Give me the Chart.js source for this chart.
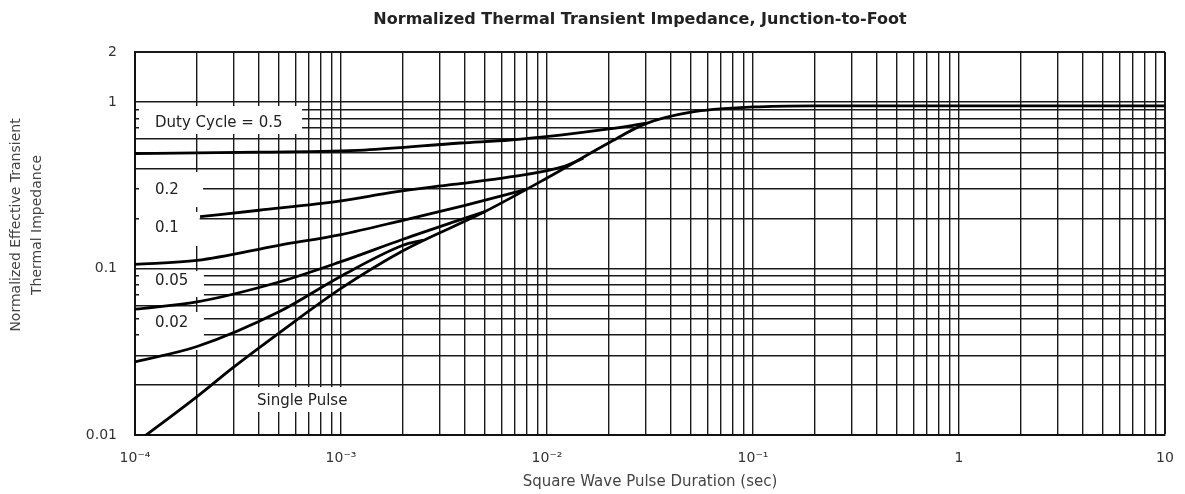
<!DOCTYPE html>
<html>
<head>
<meta charset="utf-8">
<script src="https://cdn.jsdelivr.net/npm/chart.js@4.4.1/dist/chart.umd.min.js"></script>
<style>
  body { margin: 0; background: #fff; }
  #wrap { width: 1185px; height: 494px; }
</style>
</head>
<body>
<div id="wrap"><canvas id="chart"></canvas></div>
<script>
// pulse duration (sec) and normalized impedance
const tSingle = [1e-4, 2e-4, 3e-4, 5e-4, 1e-3, 2e-3, 5e-3, 1e-2, 2e-2, 3e-2, 5e-2, 1e-1, 2e-1, 1, 10];
const zSingle = [0.0089, 0.017, 0.0255, 0.041, 0.076, 0.128, 0.22, 0.35, 0.57, 0.74, 0.87, 0.935, 0.95, 0.95, 0.95];

const tD50 = [1e-4, 4e-4, 1.3e-3, 3.8e-3, 6.6e-3, 1.16e-2, 2e-2, 3e-2];
const zD50 = [0.49, 0.5, 0.515, 0.568, 0.592, 0.634, 0.69, 0.745];

const tD20 = [2.07e-4, 4e-4, 1e-3, 1.8e-3, 3.5e-3, 6.6e-3, 1.2e-2, 1.5e-2];
const zD20 = [0.205, 0.224, 0.255, 0.288, 0.32, 0.355, 0.41, 0.46];

const tD10 = [1e-4, 2e-4, 5e-4, 1e-3, 2e-3, 4e-3, 8e-3];
const zD10 = [0.106, 0.112, 0.138, 0.16, 0.195, 0.24, 0.30];

const tD05 = [1e-4, 2e-4, 5e-4, 1e-3, 2e-3, 3.5e-3, 5e-3];
const zD05 = [0.057, 0.063, 0.083, 0.11, 0.15, 0.19, 0.22];

const tD02 = [1e-4, 2e-4, 5e-4, 1e-3, 2e-3, 2.5e-3];
const zD02 = [0.0275, 0.034, 0.055, 0.09, 0.138, 0.148];

const xTickValues = [1e-4, 1e-3, 1e-2, 1e-1, 1, 10];
const xTickLabels = ['10⁻⁴', '10⁻³', '10⁻²', '10⁻¹', '1', '10'];
const yTickValues = [0.01, 0.1, 1, 2];
const yTickLabels = ['0.01', '0.1', '1', '2'];

const curveNames = ['Duty Cycle = 0.5', '0.2', '0.1', '0.05', '0.02', 'Single Pulse'];
const chartTitle = 'Normalized Thermal Transient Impedance, Junction-to-Foot';
const yTitle = ['Normalized Effective Transient', 'Thermal Impedance'];

const FONT = '"DejaVu Sans", "Liberation Sans", Arial, sans-serif';

function pts(ts, zs) {
    return ts.map((t, i) => ({ x: t, y: zs[i] }));
}

function logGrid(min, max) {
    const out = [];
    for (let e = Math.floor(Math.log10(min)); e <= Math.ceil(Math.log10(max)); e++) {
        for (let s = 1; s <= 9; s++) {
            const v = Number((s * Math.pow(10, e)).toPrecision(6));
            if (v >= min * 0.999999 && v <= max * 1.000001) out.push(v);
        }
    }
    return out;
}

function pickLabel(value, values, labels) {
    for (let i = 0; i < values.length; i++) {
        if (Math.abs(Math.log10(value) - Math.log10(values[i])) < 1e-6) return labels[i];
    }
    return '';
}

// white label boxes in data units (they hide the grid behind the curve names)
const boxes = [
    { t: [1.046e-4, 6.47e-4], z: [0.947, 0.643] },
    { t: [1.046e-4, 2.14e-4], z: [0.380, 0.234] },
    { t: [1.046e-4, 2.06e-4], z: [0.219, 0.1366] },
    { t: [1.046e-4, 2.16e-4], z: [0.0966, 0.0674] },
    { t: [1.046e-4, 2.16e-4], z: [0.0548, 0.0324] },
    { t: [3.70e-4, 1.07e-3], z: [0.0194, 0.01375] }
];
const notePos = [
    { t: 1.25e-4, z: 0.748 },
    { t: 1.25e-4, z: 0.296 },
    { t: 1.25e-4, z: 0.175 },
    { t: 1.25e-4, z: 0.0841 },
    { t: 1.25e-4, z: 0.0471 },
    { t: 3.91e-4, z: 0.016 }
];

const notesPlugin = {
    id: 'notes',
    beforeDatasetsDraw(chart) {
        const { ctx, scales: { x, y } } = chart;
        ctx.save();
        ctx.fillStyle = '#fff';
        boxes.forEach(b => {
            const x0 = x.getPixelForValue(b.t[0]);
            const x1 = x.getPixelForValue(b.t[1]);
            const y0 = y.getPixelForValue(b.z[0]);
            const y1 = y.getPixelForValue(b.z[1]);
            ctx.fillRect(x0, y0, x1 - x0, y1 - y0);
        });
        ctx.fillStyle = '#222';
        ctx.font = '15px ' + FONT;
        ctx.textAlign = 'left';
        ctx.textBaseline = 'middle';
        curveNames.forEach((name, i) => {
            ctx.fillText(name, x.getPixelForValue(notePos[i].t), y.getPixelForValue(notePos[i].z));
        });
        ctx.restore();
    },
    afterDraw(chart) {
        const { ctx } = chart;
        ctx.save();
        ctx.fillStyle = '#222';
        ctx.font = 'bold 16px ' + FONT;
        ctx.textAlign = 'center';
        ctx.textBaseline = 'middle';
        ctx.fillText(chartTitle, 640, 20);

        // y axis title, two lines, rotated
        ctx.fillStyle = '#444';
        ctx.font = '14px ' + FONT;
        ctx.translate(0, 225);
        ctx.rotate(-Math.PI / 2);
        ctx.fillText(yTitle[0], 0, 16);
        ctx.fillText(yTitle[1], 0, 37);
        ctx.restore();
    }
};

function curve(data) {
    return {
        data: data,
        borderColor: '#000',
        borderWidth: 2.8,
        pointRadius: 0,
        fill: false,
        cubicInterpolationMode: 'monotone'
    };
}

const gridWidth = (c) => {
    const v = c.tick ? c.tick.value : 0;
    if (v === c.scale.max) return 2;
    return 1.4;
};

new Chart(document.getElementById('chart'), {
    type: 'line',
    data: {
        datasets: [
            curve(pts(tSingle, zSingle)),
            curve(pts(tD50, zD50)),
            curve(pts(tD20, zD20)),
            curve(pts(tD10, zD10)),
            curve(pts(tD05, zD05)),
            curve(pts(tD02, zD02))
        ]
    },
    options: {
        animation: false,
        responsive: true,
        maintainAspectRatio: false,
        layout: { padding: { left: 0, right: 20, top: 52, bottom: 0 } },
        plugins: {
            legend: { display: false },
            tooltip: { enabled: false },
            title: { display: false }
        },
        scales: {
            x: {
                type: 'logarithmic',
                min: 1e-4,
                max: 10,
                afterBuildTicks: (s) => { s.ticks = logGrid(s.min, s.max).map(v => ({ value: v })); },
                afterFit: (s) => { s.height = 59; s.paddingLeft = 0; s.paddingRight = 0; },
                grid: { color: '#1a1a1a', lineWidth: gridWidth, drawTicks: false },
                border: { display: true, color: '#111', width: 2 },
                ticks: {
                    autoSkip: false,
                    maxRotation: 0,
                    padding: 15,
                    color: '#333',
                    font: { family: FONT, size: 14 },
                    callback: (v) => pickLabel(v, xTickValues, xTickLabels)
                },
                title: {
                    display: true,
                    text: 'Square Wave Pulse Duration (sec)',
                    color: '#444',
                    font: { family: FONT, size: 15, lineHeight: 1.2 },
                    padding: { top: 0, bottom: 3 }
                }
            },
            y: {
                type: 'logarithmic',
                min: 0.01,
                max: 2,
                afterBuildTicks: (s) => { s.ticks = logGrid(s.min, s.max).map(v => ({ value: v })); },
                afterFit: (s) => { s.width = 135; },
                grid: { color: '#1a1a1a', lineWidth: gridWidth, drawTicks: false },
                border: { display: true, color: '#111', width: 2 },
                ticks: {
                    autoSkip: false,
                    padding: 18,
                    color: '#333',
                    font: { family: FONT, size: 14 },
                    callback: (v) => pickLabel(v, yTickValues, yTickLabels)
                }
            }
        }
    },
    plugins: [notesPlugin]
});
</script>
</body>
</html>
